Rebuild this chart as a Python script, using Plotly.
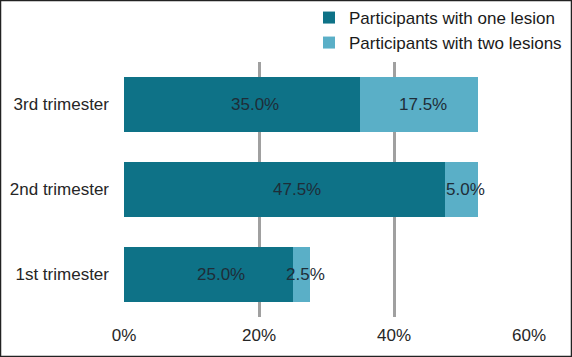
import plotly.graph_objects as go

categories = ["1st trimester", "2nd trimester", "3rd trimester"]
one_lesion = [25.0, 47.5, 35.0]
two_lesions = [2.5, 5.0, 17.5]
series_names = ["Participants with one lesion", "Participants with two lesions"]
x_ticks = [0, 20, 40, 60]
x_tick_labels = ["0%", "20%", "40%", "60%"]

W, H = 572, 357
ML, MR, MT, MB = 124, 43, 62, 40
PW, PH = W - ML - MR, H - MT - MB

font = "Liberation Sans, Arial, sans-serif"
txt_color = "#1f2d38"

fig = go.Figure()
fig.add_trace(go.Bar(
    y=categories, x=one_lesion, orientation="h", name=series_names[0],
    marker=dict(color="#0e7287", line=dict(width=0)),
    legend="legend", showlegend=True,
))
fig.add_trace(go.Bar(
    y=categories, x=two_lesions, orientation="h", name=series_names[1],
    marker=dict(color="#5aafc7", line=dict(width=0)),
    legend="legend2", showlegend=True,
))

# value labels, placed at segment midpoints via the data axes
annotations = []
for cat, a, b in zip(categories, one_lesion, two_lesions):
    annotations.append(dict(
        x=a / 2, y=cat, xref="x", yref="y", text=f"{a:.1f}%",
        showarrow=False, xshift=13,
        font=dict(family=font, size=17, color=txt_color),
    ))
    annotations.append(dict(
        x=a + b / 2, y=cat, xref="x", yref="y", text=f"{b:.1f}%",
        showarrow=False, xshift=4,
        font=dict(family=font, size=17, color=txt_color),
    ))

def px_x(p):
    return (p - ML) / PW

def px_y(p):
    return 1 - (p - MT) / PH

legend_common = dict(
    font=dict(family=font, size=17, color="#1a1a1a"),
    bgcolor="rgba(0,0,0,0)", borderwidth=0,
    xanchor="left", yanchor="middle",
    xref="container", yref="container", visible=True,
)

fig.update_layout(
    width=W, height=H,
    showlegend=True,
    margin=dict(l=ML, r=MR, t=MT, b=MB, autoexpand=False),
    barmode="stack", bargap=0.35,
    paper_bgcolor="white", plot_bgcolor="white",
    font=dict(family=font, size=17, color="#262626"),
    legend=dict(x=309 / W, y=1 - 18 / H, **legend_common),
    legend2=dict(x=309 / W, y=1 - 43 / H, **legend_common),
    annotations=annotations,
    xaxis=dict(
        range=[0, 60], tickvals=x_ticks, ticktext=x_tick_labels,
        showgrid=True, gridcolor="#a0a0a0", gridwidth=3,
        zeroline=False, showline=False, ticks="",
        ticklabelstandoff=6,
        tickfont=dict(family=font, size=17, color="#262626"),
    ),
    yaxis=dict(
        categoryorder="array", categoryarray=categories,
        showgrid=False, zeroline=False, showline=False, ticks="",
        ticklabelstandoff=14,
        tickfont=dict(family=font, size=17, color="#262626"),
    ),
    shapes=[dict(
        type="rect", xref="paper", yref="paper",
        x0=px_x(0.5), x1=px_x(W - 0.5), y0=px_y(H - 0.5), y1=px_y(0.5),
        line=dict(color="#222222", width=1.5), layer="above",
    )],
)

fig.write_html(
    "out.html",
    config={"displayModeBar": False},
    post_script="document.body.style.margin='0';document.body.style.padding='0';",
)
